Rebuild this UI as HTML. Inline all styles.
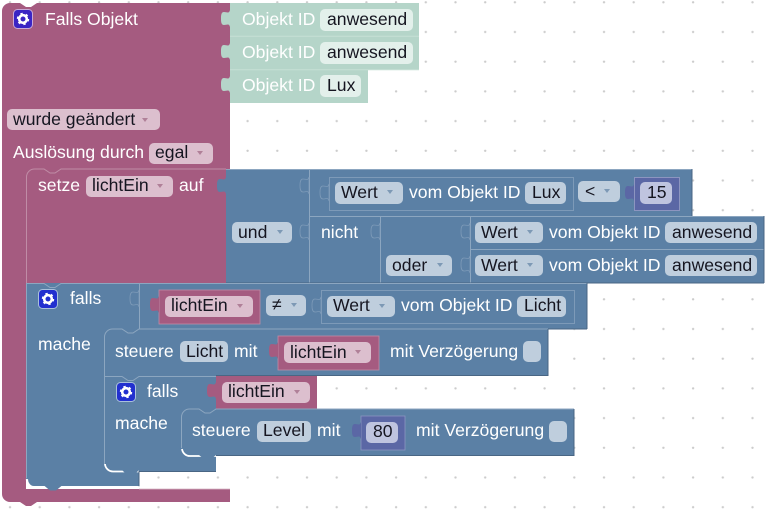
<!DOCTYPE html>
<html><head><meta charset="utf-8"><style>
html,body{margin:0;padding:0;background:#fff}
svg{display:block}
text{font-family:"Liberation Sans",Arial,sans-serif;font-size:17.6px;fill:#fff;white-space:pre}
text.d{fill:#151520}
.pf{fill:#dcbfce}.bf{fill:#bfcedd}.tf{fill:#e3f0eb}.mf{fill:#bfc4df}
.hb{fill:none;stroke:#8ca6c0;stroke-width:1}
.hp{fill:none;stroke:#c08ca6;stroke-width:1}
.db{fill:none;stroke:#496684;stroke-width:1}
</style></head><body>
<svg xmlns="http://www.w3.org/2000/svg" width="772" height="512" viewBox="0 0 772 512">
<defs>
<pattern id="dots" x="2" y="2" width="29.7" height="29.7" patternUnits="userSpaceOnUse"><circle cx="8" cy="0.3" r="1.2" fill="#ccc"/><circle cx="8" cy="30" r="1.2" fill="#ccc"/></pattern>
<path id="tab" d="M0,0C-1,4 -3,2 -6,2C-9,2 -9,6 -9,8.500C-9,11 -9,15 -6,15C-3,15 -1,13 0,17z"/>
<path id="arr" d="M0,0h6l-3,4z"/>
<g id="gear"><circle r="3.800" fill="none" stroke="#fff" stroke-width="2.600"/><circle r="5.400" fill="none" stroke="#fff" stroke-width="1.600" stroke-dasharray="2.400 3.250"/></g>
</defs>
<rect width="772" height="512" fill="#fff"/>
<rect width="772" height="512" fill="url(#dots)"/>

<!-- pink hat block -->
<path fill="#a55b80" d="M2,11a8,8 0 0 1 8,-8H20l6,4h5l6,-4H230V169H226V283H26V489H230V502H37l-6,4h-5l-6,-4H10a8,8 0 0 1 -8,-8Z"/>
<path class="hp" d="M26.500,283V177a8,8 0 0 1 8,-8H44l6,4h5l6,-4H226"/>
<rect x="13.500" y="9.500" width="19" height="19" rx="4" fill="#3a25c4" stroke="#c9a9d6"/>
<use href="#gear" x="23" y="19"/>
<text x="45" y="25">Falls Objekt</text>
<rect x="7" y="109" width="153" height="21" rx="5" class="pf"/><text class="d" x="13" y="125">wurde geändert</text><use href="#arr" x="142" y="118" fill="#b08098"/>
<text x="13" y="158">Auslösung durch</text>
<rect x="149" y="143" width="64" height="21" rx="5" class="pf"/><text class="d" x="155" y="158">egal</text><use href="#arr" x="197" y="151" fill="#b08098"/>
<text x="38" y="191">setze</text>
<rect x="86" y="176" width="87" height="21" rx="5" class="pf"/><text class="d" x="92" y="191">lichtEin</text><use href="#arr" x="157" y="184" fill="#b08098"/>
<text x="179" y="191">auf</text>

<!-- teal blocks -->
<g fill="#b5d5c9">
<rect x="230" y="3" width="189" height="33"/><rect x="230" y="36.500" width="189" height="33"/><rect x="230" y="70" width="138" height="33"/>
<use href="#tab" x="230" y="10"/><use href="#tab" x="230" y="43"/><use href="#tab" x="230" y="76"/>
</g>
<path d="M230,36.200H419M230,69.700H419" stroke="#c6e0d6" fill="none"/>
<text x="242" y="25">Objekt ID</text><rect x="320" y="9" width="93" height="22" rx="5" class="tf"/><text class="d" x="327" y="25">anwesend</text>
<text x="242" y="58">Objekt ID</text><rect x="320" y="42" width="93" height="22" rx="5" class="tf"/><text class="d" x="327" y="58">anwesend</text>
<text x="242" y="91">Objekt ID</text><rect x="320" y="75" width="41" height="22" rx="5" class="tf"/><text class="d" x="327" y="91">Lux</text>

<!-- und block -->
<path fill="#5b80a5" d="M226,169H692V216H764V283H226Z"/>
<use href="#tab" x="226" y="177" fill="#5b80a5"/>
<path class="hb" d="M226,169.500H692M309.500,169V283M309.500,216.500H764M380.500,216.500V283M470.500,216.500V283M470,249.500H764"/>
<path class="db" d="M226,283H764M764,216V283M692,169V216"/>
<g fill="#5b80a5" stroke="#7d9ab8" stroke-width=".8">
<use href="#tab" x="309" y="177"/><use href="#tab" x="309" y="223"/><use href="#tab" x="380" y="223"/><use href="#tab" x="470" y="223"/><use href="#tab" x="470" y="256"/>
</g>
<rect x="232" y="222" width="60" height="21" rx="5" class="bf"/><text class="d" x="238" y="238">und</text><use href="#arr" x="277" y="230" fill="#7d99b5"/>
<text x="321" y="238">nicht</text>
<rect x="386" y="255" width="66" height="21" rx="5" class="bf"/><text class="d" x="392" y="271">oder</text><use href="#arr" x="437" y="263" fill="#7d99b5"/>

<!-- upper compare -->
<rect x="329.500" y="177.500" width="244" height="33" fill="#5b80a5" stroke="#7d9ab8"/>
<use href="#tab" x="329" y="184" fill="#5b80a5" stroke="#7d9ab8" stroke-width=".8"/>
<rect x="335" y="182" width="68" height="22" rx="5" class="bf"/><text class="d" x="341" y="198">Wert</text><use href="#arr" x="387" y="190" fill="#7d99b5"/>
<text x="409" y="198">vom Objekt ID</text>
<rect x="525" y="182" width="41" height="22" rx="5" class="bf"/><text class="d" x="532" y="198">Lux</text>
<rect x="578" y="181" width="42" height="21" rx="5" class="bf"/><text class="d" x="585" y="197">&lt;</text><use href="#arr" x="604" y="189" fill="#7d99b5"/>
<rect x="634.500" y="177.500" width="45" height="33" fill="#5b67a5" stroke="#8c95c0"/>
<use href="#tab" x="634" y="184" fill="#5b67a5"/>
<rect x="640" y="182" width="32" height="22" rx="5" class="mf"/><text class="d" x="647" y="198">15</text>

<!-- lower values -->
<rect x="475" y="222" width="68" height="21" rx="5" class="bf"/><text class="d" x="481" y="238">Wert</text><use href="#arr" x="527" y="230" fill="#7d99b5"/>
<text x="549" y="238">vom Objekt ID</text>
<rect x="665" y="222" width="92" height="21" rx="5" class="bf"/><text class="d" x="672" y="238">anwesend</text>
<rect x="475" y="255" width="68" height="21" rx="5" class="bf"/><text class="d" x="481" y="271">Wert</text><use href="#arr" x="527" y="263" fill="#7d99b5"/>
<text x="549" y="271">vom Objekt ID</text>
<rect x="665" y="255" width="92" height="21" rx="5" class="bf"/><text class="d" x="672" y="271">anwesend</text>

<!-- outer falls -->
<path fill="#5b80a5" d="M26,283H587V329H548V376H216V471H139V486H34a8,8 0 0 1 -8,-8Z"/>
<path class="hb" d="M26.500,478V283.500H44l6,4h5l6,-4H587"/>
<path class="hb" d="M139.500,283V329"/>
<path class="db" d="M587,283V329M139,329H587"/>
<path d="M27,479a8,8 0 0 0 8,8.500H139" fill="none" stroke="#fff" stroke-width="2.200"/>
<path fill="#5b80a5" d="M44,485.500H62l-6,5h-6z"/>
<path d="M139,489.300H230" fill="none" stroke="#c08ca6" stroke-width="1"/>
<rect x="38.500" y="289.500" width="19" height="19" rx="4" fill="#2230cf" stroke="#a9c0dc"/>
<use href="#gear" x="48" y="299"/>
<text x="70" y="304">falls</text>
<text x="38" y="350">mache</text>
<use href="#tab" x="139" y="290" fill="#5b80a5" stroke="#7d9ab8" stroke-width=".8"/>

<!-- condition -->
<rect x="159" y="290" width="101" height="34" fill="#a55b80" stroke="#c08ca6" stroke-width=".8"/>
<use href="#tab" x="159" y="296" fill="#a55b80"/>
<rect x="165" y="296" width="88" height="21" rx="5" class="pf"/><text class="d" x="171" y="311">lichtEin</text><use href="#arr" x="237" y="304" fill="#b08098"/>
<rect x="266" y="295" width="40" height="21" rx="5" class="bf"/><text class="d" x="272" y="310">≠</text><use href="#arr" x="291" y="303" fill="#7d99b5"/>
<rect x="321.500" y="290.500" width="253" height="33" fill="#5b80a5" stroke="#7d9ab8"/>
<use href="#tab" x="321" y="297" fill="#5b80a5" stroke="#7d9ab8" stroke-width=".8"/>
<rect x="327" y="296" width="68" height="21" rx="5" class="bf"/><text class="d" x="333" y="311">Wert</text><use href="#arr" x="379" y="304" fill="#7d99b5"/>
<text x="401" y="311">vom Objekt ID</text>
<rect x="517" y="296" width="49" height="21" rx="5" class="bf"/><text class="d" x="524" y="311">Licht</text>

<!-- steuere 1 -->
<path class="hb" d="M104.500,376V337a8,8 0 0 1 8,-8H122l6,4h5l6,-4H548"/>
<path class="db" d="M548,329V376M216,375.500H548"/>
<text x="115" y="357">steuere</text>
<rect x="180" y="341" width="48" height="21" rx="5" class="bf"/><text class="d" x="186" y="357">Licht</text>
<text x="234" y="357">mit</text>
<rect x="278" y="336" width="101" height="34" fill="#a55b80" stroke="#c08ca6" stroke-width=".8"/>
<use href="#tab" x="278" y="342" fill="#a55b80"/>
<rect x="284" y="342" width="87" height="21" rx="5" class="pf"/><text class="d" x="290" y="358">lichtEin</text><use href="#arr" x="355" y="350" fill="#b08098"/>
<text x="390" y="357">mit Verzögerung</text>
<rect x="523" y="341" width="18" height="21" rx="5" class="bf"/>

<!-- falls 2 -->
<path class="hb" d="M104.500,464V376.500H122l6,4h5l6,-4H216"/>
<path d="M105,464a8,8 0 0 0 8,7.500H139" fill="none" stroke="#fff" stroke-width="1.800"/>
<path fill="#5b80a5" d="M122,470h17l-6,6h-5z"/>
<path class="db" d="M139,471.500H216"/>
<path class="db" d="M139,486.300V471"/>
<rect x="116.500" y="382.500" width="19" height="19" rx="4" fill="#2230cf" stroke="#a9c0dc"/>
<use href="#gear" x="126" y="392"/>
<text x="147" y="397">falls</text>
<text x="115" y="429">mache</text>
<rect x="216" y="376" width="101" height="33" fill="#a55b80"/>
<use href="#tab" x="216" y="382" fill="#a55b80"/>
<rect x="222" y="382" width="88" height="21" rx="5" class="pf"/><text class="d" x="228" y="397">lichtEin</text><use href="#arr" x="294" y="390" fill="#b08098"/>

<!-- steuere 2 -->
<path fill="#5b80a5" d="M181,417a8,8 0 0 1 8,-8H574V456H189a8,8 0 0 1 -8,-8Z"/>
<path class="hb" d="M181.500,448V417a8,8 0 0 1 8,-8H199l6,4h5l6,-4H574"/>
<path d="M182,449a8,8 0 0 0 8,7H216" fill="none" stroke="#fff" stroke-width="1.800"/>
<path fill="#5b80a5" d="M199,455h17l-6,5h-5z"/>
<path class="db" d="M574,409V456M216,455.500H574"/>
<text x="192" y="436">steuere</text>
<rect x="257" y="421" width="54" height="21" rx="5" class="bf"/><text class="d" x="263" y="436">Level</text>
<text x="317" y="436">mit</text>
<rect x="361" y="416" width="44" height="34" fill="#5b67a5" stroke="#8c95c0" stroke-width=".8"/>
<use href="#tab" x="361" y="422" fill="#5b67a5"/>
<rect x="366" y="422" width="32" height="21" rx="5" class="mf"/><text class="d" x="373" y="437">80</text>
<text x="416" y="436">mit Verzögerung</text>
<rect x="549" y="421" width="18" height="21" rx="5" class="bf"/>
</svg>
</body></html>
